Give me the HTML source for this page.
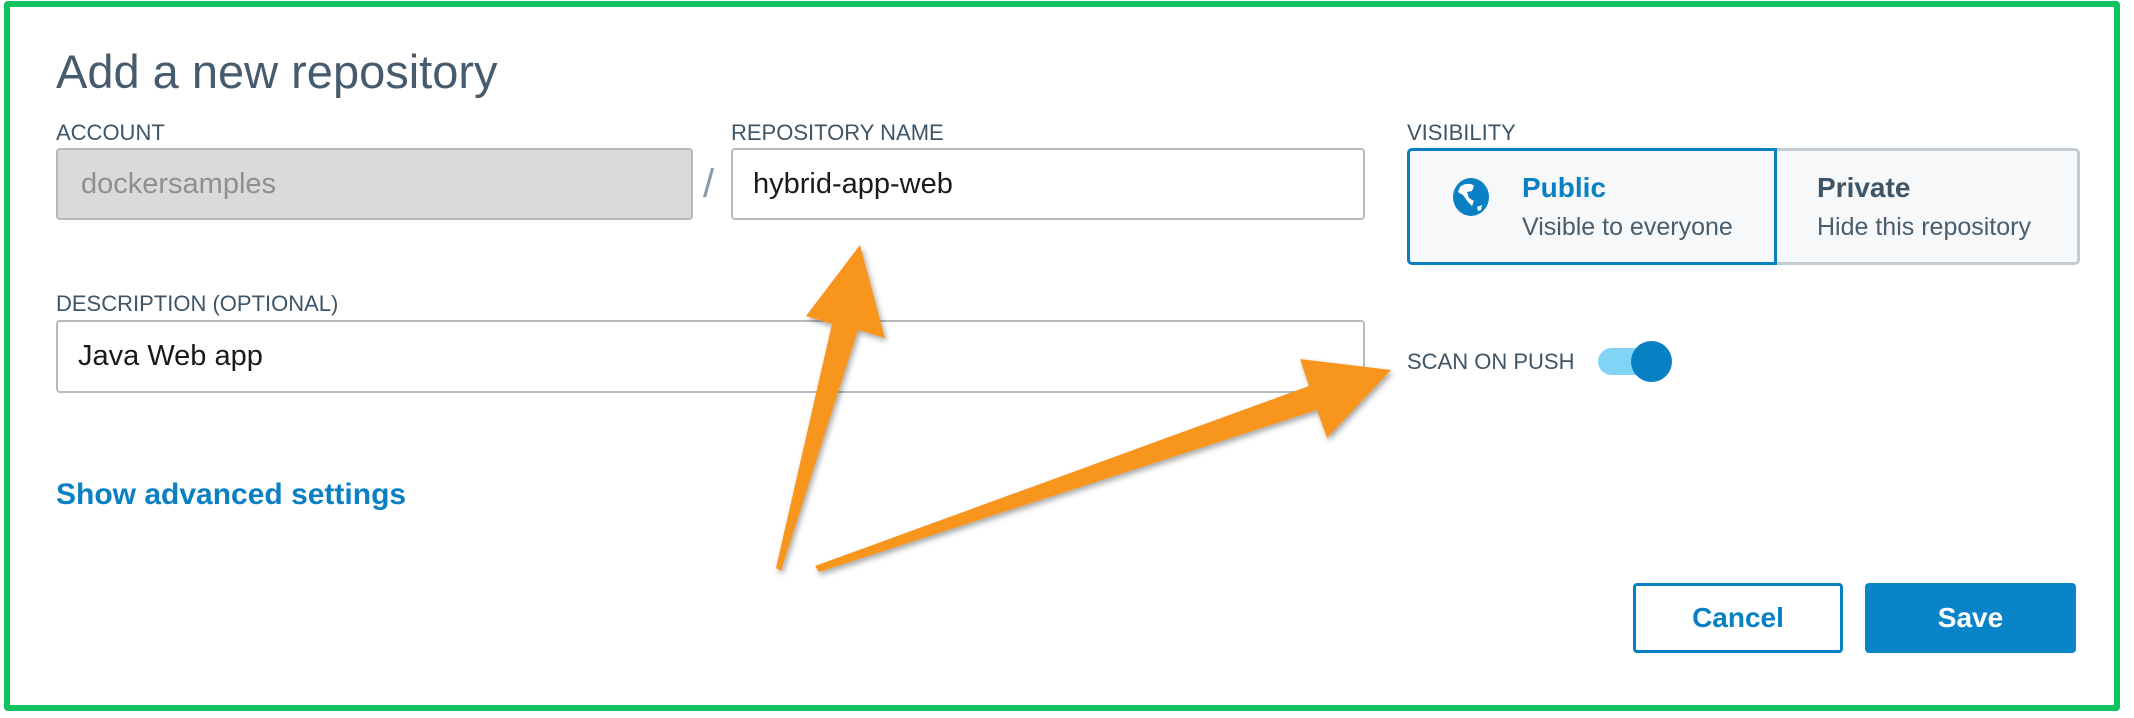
<!DOCTYPE html>
<html><head><meta charset="utf-8"><style>
*{margin:0;padding:0;box-sizing:border-box}
body{width:2134px;height:718px;background:#fff;position:relative;overflow:hidden;font-family:"Liberation Sans",sans-serif}
.frame{position:absolute;left:4px;top:1px;width:2116px;height:710px;border:6px solid #0ec25f;border-radius:4px}
.a{position:absolute;white-space:nowrap}
.lbl{font-size:22px;color:#3e5567;text-transform:uppercase}
.inp{position:absolute;border:2px solid #b4bcc2;border-radius:4px;background:#fff;font-size:29px;color:#1a1a1a;display:flex;align-items:center;padding-left:20px}
</style></head><body>
<div class="frame"></div>
<div class="a" style="left:56px;top:44px;font-size:47px;color:#465c6e">Add a new repository</div>

<div class="a lbl" style="left:56px;top:120px">Account</div>
<div class="inp" style="left:56px;top:148px;width:637px;height:72px;background:#dadada;border-color:#b8b8b8;color:#8f8f8f;padding-left:23px">dockersamples</div>
<div class="a" style="left:703px;top:162px;font-size:40px;color:#8a9aa6">/</div>

<div class="a lbl" style="left:731px;top:120px">Repository name</div>
<div class="inp" style="left:731px;top:148px;width:634px;height:72px">hybrid-app-web</div>

<div class="a lbl" style="left:56px;top:291px">Description (optional)</div>
<div class="inp" style="left:56px;top:320px;width:1309px;height:73px;padding-left:20px">Java Web app</div>

<div class="a" style="left:56px;top:478px;font-size:30px;font-weight:bold;color:#0a80c4">Show advanced settings</div>

<div class="a lbl" style="left:1407px;top:120px">Visibility</div>
<div style="position:absolute;left:1407px;top:148px;width:673px;height:117px;background:#f6f8fa;border:3px solid #c3cbd1;border-radius:5px"></div>
<div style="position:absolute;left:1407px;top:148px;width:370px;height:117px;border:3px solid #0a80c4;border-radius:5px 0 0 5px"></div>
<svg style="position:absolute;left:1452px;top:177px" width="38" height="40" viewBox="0 0 38 40"><ellipse cx="19" cy="20" rx="18" ry="19" fill="#0a80c4"/><path d="M8 10 C12 6 20 6 22 9 L20 14 L15 15 L17 21 L22 24 L20 29 L16 25 L11 18 L6 15 Z" fill="#fff"/><path d="M25 30 L30 28 L29 33 L26 34 Z" fill="#fff"/></svg>
<div class="a" style="left:1522px;top:172px;font-size:28px;font-weight:bold;color:#0a80c4">Public</div>
<div class="a" style="left:1522px;top:213px;font-size:25px;color:#4a5d6c">Visible to everyone</div>
<div class="a" style="left:1817px;top:172px;font-size:28px;font-weight:bold;color:#3e5567">Private</div>
<div class="a" style="left:1817px;top:213px;font-size:25px;color:#4a5d6c">Hide this repository</div>

<div class="a lbl" style="left:1407px;top:349px">Scan on push</div>
<div style="position:absolute;left:1598px;top:348px;width:60px;height:27px;border-radius:14px;background:#82d4f7"></div>
<div style="position:absolute;left:1631px;top:341px;width:41px;height:41px;border-radius:50%;background:#0a80c4"></div>

<div class="a" style="left:1633px;top:583px;width:210px;height:70px;border:3px solid #0a80c4;border-radius:4px;background:#fff;color:#0a80c4;font-weight:bold;font-size:28px;display:flex;align-items:center;justify-content:center">Cancel</div>
<div class="a" style="left:1865px;top:583px;width:211px;height:70px;border-radius:4px;background:#0a84c9;color:#fff;font-weight:bold;font-size:28px;display:flex;align-items:center;justify-content:center">Save</div>

<svg style="position:absolute;left:0;top:0" width="2134" height="718">
<defs><filter id="sh" x="-20%" y="-20%" width="140%" height="140%"><feDropShadow dx="2" dy="3" stdDeviation="3" flood-color="#000" flood-opacity="0.35"/></filter></defs>
<g fill="#f7951f" filter="url(#sh)">
<polygon points="776,568 832,324 806,316 860,245 885,338 858,330 781,571"/>
<polygon points="815,566 1309,386 1300,359 1391,370 1327,438 1317,410 819,572"/>
</g>
</svg>
</body></html>
